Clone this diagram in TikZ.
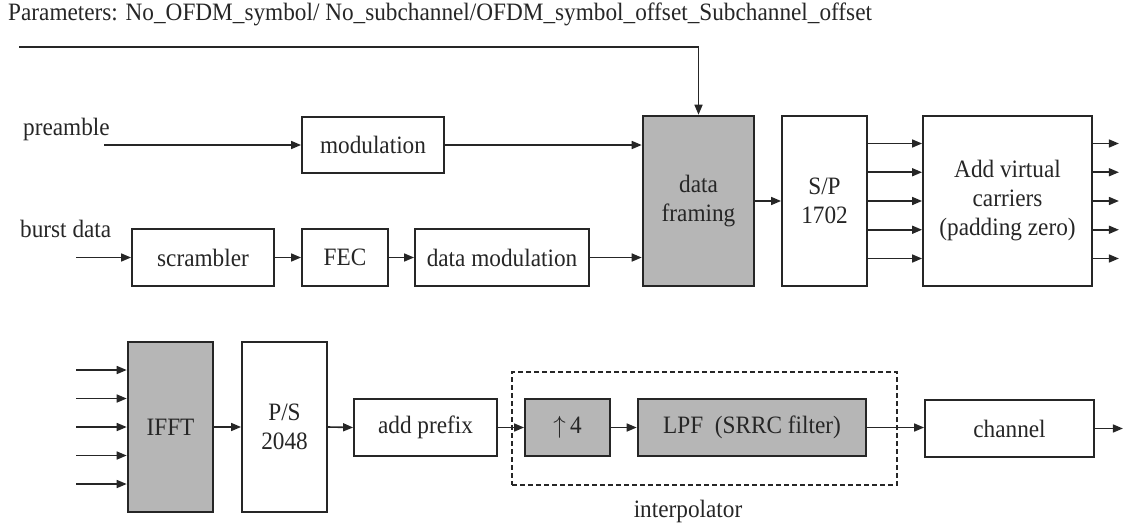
\documentclass[tikz,border=0pt]{standalone}
\usepackage{fontspec}
\setmainfont{Liberation Serif}[FakeStretch=0.93]
\usetikzlibrary{arrows.meta}
\definecolor{ink}{RGB}{38,38,38}
\definecolor{shade}{RGB}{182,182,182}
\begin{document}
\begin{tikzpicture}[x=1pt,y=-1pt,
  font=\fontsize{25}{29}\selectfont,
  blk/.style={draw=ink, line width=1.8pt, fill=white, inner sep=0pt, align=center, text=ink},
  dark/.style={blk, fill=shade, line width=2.6pt},
  wire/.style={draw=ink, line width=1.6pt},
  flow/.style={wire, -{Triangle[length=10pt,width=8pt]}},
  lbl/.style={text=ink, inner sep=0pt}]
\useasboundingbox (0,0) rectangle (1126,527);

% ---------- transmitter: first row ----------
\node[lbl, anchor=base west] (params) at (8,21)
  {Parameters: No\_OFDM\_symbol/ No\_subchannel/OFDM\_symbol\_offset\_Subchannel\_offset};
\node[lbl, anchor=base west] (pretxt) at (23,135) {preamble};
\node[lbl, anchor=base west] (bdtxt) at (20,237) {burst data};

\node[blk, minimum width=142pt, minimum height=56pt] (mod) at (373,145) {modulation};
\node[blk, minimum width=142pt, minimum height=57pt] (scr) at (203,257.5) {scrambler};
\node[blk, minimum width=86pt, minimum height=57pt] (fec) at (345,257.5) {FEC};
\node[blk, minimum width=174pt, minimum height=57pt] (dmod) at (502,257.5) {data modulation};
\node[dark, minimum width=111pt, minimum height=170pt] (frame) at (698.5,201) {data\\framing};
\node[blk, minimum width=85pt, minimum height=170pt] (sp) at (824.5,201) {S/P\\1702};
\node[blk, minimum width=169pt, minimum height=170pt] (avc) at (1007.5,201)
  {Add virtual\\carriers\\(padding zero)};

\coordinate (ptop) at (19,47);
\coordinate (prein) at (104,145);
\coordinate (bdin) at (76,257.5);

\draw[flow] (ptop) -| (frame.north);
\draw[flow] (prein) -- (mod.west);
\draw[flow] (mod.east) -- (mod.east -| frame.west);
\draw[flow] (bdin) -- (scr.west);
\draw[flow] (scr.east) -- (fec.west);
\draw[flow] (fec.east) -- (dmod.west);
\draw[flow] (dmod.east) -- (dmod.east -| frame.west);
\draw[flow] (frame.east) -- (sp.west);
\foreach \d in {-57.5,-28.75,0,28.75,57.5}{
  \draw[flow] ([yshift=\d pt]sp.east) -- ([yshift=\d pt]avc.west);
  \draw[flow] ([yshift=\d pt]avc.east) -- ++(26,0);
}

% ---------- transmitter: second row ----------
\node[draw=ink, dash pattern=on 5pt off 3pt, line width=1.5pt, inner sep=0pt,
      minimum width=385pt, minimum height=113pt] (interp) at (704.5,428.5) {};
\node[lbl, anchor=base] (interptxt) at (688,517) {interpolator};

\node[dark, minimum width=85pt, minimum height=170pt] (ifft) at (170.5,427) {IFFT};
\node[blk, minimum width=85pt, minimum height=170pt] (ps) at (284.5,427) {P/S\\2048};
\node[blk, minimum width=143pt, minimum height=57pt] (prefix) at (425.5,427.5) {add prefix};
\node[dark, line width=1.8pt, minimum width=85pt, minimum height=57pt] (up) at (567.5,427.5) {$\uparrow$\,4};
\node[dark, minimum width=228pt, minimum height=57pt] (lpf) at (752,427.5) {LPF\ \ (SRRC filter)};
\node[blk, minimum width=169pt, minimum height=57pt] (chan) at (1009.5,428.5) {channel};

\coordinate (fftin) at (76,427);
\foreach \d in {-57,-28.5,0,28.5,57}{
  \draw[flow] ([yshift=\d pt]fftin) -- ([yshift=\d pt]ifft.west);
}
\draw[flow] (ifft.east) -- (ps.west);
\draw[flow] (ps.east) -- (prefix.west);
\draw[flow] (prefix.east) -- (up.west);
\draw[flow] (up.east) -- (lpf.west);
\draw[flow] (lpf.east) -- (lpf.east -| chan.west);
\draw[flow] (chan.east) -- ++(28,0);
\end{tikzpicture}
\end{document}
